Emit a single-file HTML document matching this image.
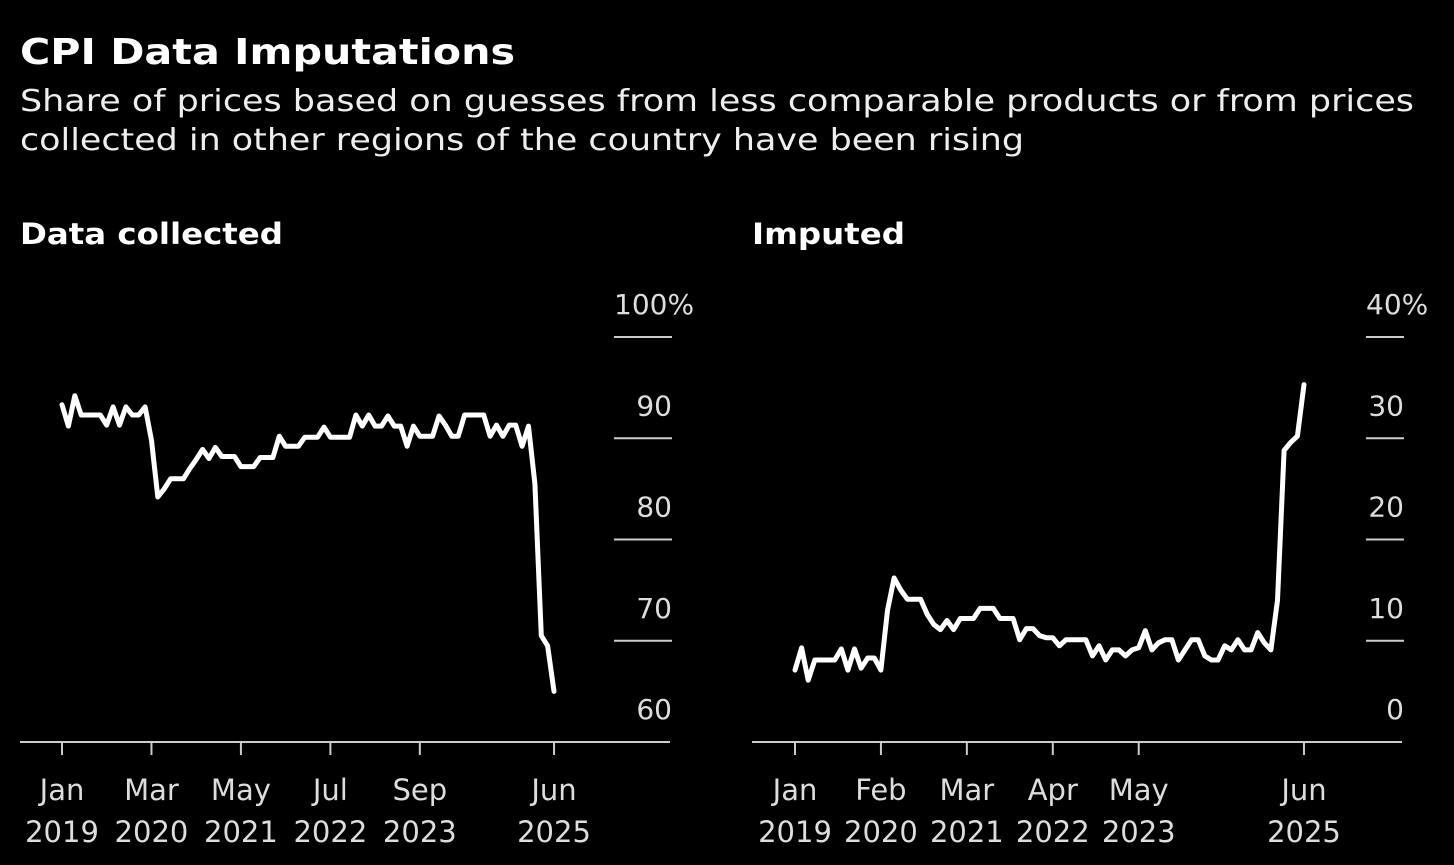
<!DOCTYPE html>
<html><head><meta charset="utf-8"><style>
body{margin:0;background:#000;width:1454px;height:861px;overflow:hidden;font-family:"DejaVu Sans","Liberation Sans",sans-serif}
text{font-family:"DejaVu Sans","Liberation Sans",sans-serif}
</style></head><body>
<svg id="chart" width="1454" height="861">
<text x="20" y="64" fill="#fff" font-size="36" font-weight="bold" textLength="495" lengthAdjust="spacingAndGlyphs">CPI Data Imputations</text>
<text x="20" y="111" fill="#eee" font-size="30" textLength="1394" lengthAdjust="spacingAndGlyphs">Share of prices based on guesses from less comparable products or from prices</text>
<text x="20" y="150" fill="#eee" font-size="30" textLength="1004" lengthAdjust="spacingAndGlyphs">collected in other regions of the country have been rising</text>
<text x="20" y="244" fill="#fff" font-size="29" font-weight="bold" textLength="263" lengthAdjust="spacingAndGlyphs">Data collected</text>
<text x="752" y="244" fill="#fff" font-size="29" font-weight="bold" textLength="153" lengthAdjust="spacingAndGlyphs">Imputed</text>
<g id="left"></g>
<g id="right"></g>
</svg>
<script>
const xTickLabels=[["Jan","2019",0],["Mar","2020",14],["May","2021",28],["Jul","2022",42],["Sep","2023",56],["Jun","2025",77]];
const xTickLabelsR=[["Jan","2019",0],["Feb","2020",13],["Mar","2021",26],["Apr","2022",39],["May","2023",52],["Jun","2025",77]];
const leftTicks=[60,70,80,90,100];
const rightTicks=[0,10,20,30,40];
const collected=[93.3,91.2,94.2,92.3,92.3,92.3,92.3,91.3,93.1,91.3,93.1,92.3,92.3,93.1,89.8,84.2,85,86,86,86,87,87.9,88.9,88,89.1,88.2,88.2,88.2,87.2,87.2,87.2,88.1,88.1,88.1,90.2,89.2,89.2,89.2,90.1,90.1,90.1,91.1,90.1,90.1,90.1,90.1,92.3,91.2,92.3,91.2,91.2,92.2,91.2,91.2,89.2,91.2,90.2,90.2,90.2,92.2,91.3,90.2,90.2,92.3,92.3,92.3,92.3,90.2,91.3,90.2,91.3,91.3,89.2,91.2,85.5,70.5,69.5,65];
const imputed=[7.1,9.3,6.1,8.1,8.1,8.1,8.1,9.2,7.1,9.2,7.3,8.3,8.3,7.1,13,16.2,15,14.1,14.1,14.1,12.6,11.6,11.1,12,11.1,12.2,12.2,12.2,13.2,13.2,13.2,12.2,12.2,12.2,10.1,11.2,11.2,10.5,10.3,10.3,9.5,10.1,10.1,10.1,10.1,8.5,9.5,8.1,9.1,9.1,8.5,9.1,9.3,11,9.1,9.8,10.1,10.1,8.1,9.1,10.1,10.1,8.5,8.1,8.1,9.5,9.1,10.1,9.1,9.1,10.8,9.8,9.1,14,28.8,29.6,30.2,35.3];
const NS="http://www.w3.org/2000/svg";
function mk(parent,tag,attrs){const e=document.createElementNS(NS,tag);for(const k in attrs)e.setAttribute(k,attrs[k]);parent.appendChild(e);return e;}
function panel(g,o){
 const x=i=>o.x0+i*o.dx;
 const y=v=>742-(v-o.vmin)/(o.vmax-o.vmin)*405;
 o.ticks.forEach((t,k)=>{
  if(k>0){const l=mk(g,'line',{x1:o.gx1,x2:o.gx2,y1:y(t),y2:y(t),stroke:'#ccc','stroke-width':2});
  
  }
  const tx=mk(g,'text',{x:o.gx2,y:y(t)-23,fill:'#ddd','font-size':28,'text-anchor':'end'});
  tx.textContent=t;
  if(k===o.ticks.length-1){const s=mk(tx,'tspan',{});s.textContent='%';tx.setAttribute('text-anchor','start');tx.setAttribute('x',o.gx1);}
  
  
 });
 const ax=mk(g,'line',{x1:o.ax1,x2:o.ax2,y1:742,y2:742,stroke:'#ccc','stroke-width':2});
 
 
 o.xt.forEach(t=>{
  const tk=mk(g,'line',{x1:x(t[2]),x2:x(t[2]),y1:742,y2:755,stroke:'#ccc','stroke-width':2});
  
  
  const a=mk(g,'text',{x:x(t[2]),y:800,fill:'#ddd','font-size':29,'text-anchor':'middle'});a.textContent=t[0];
  
  
  const b=mk(g,'text',{x:x(t[2]),y:842,fill:'#ddd','font-size':29,'text-anchor':'middle'});b.textContent=t[1];
  
  
 });
 const p=mk(g,'polyline',{points:o.data.map((v,i)=>x(i).toFixed(1)+','+y(v).toFixed(1)).join(' '),fill:'none',stroke:'#fff','stroke-width':5,'stroke-linejoin':'round','stroke-linecap':'round'});
 
 
}
panel(document.getElementById('left'),{x0:62,dx:6.39,vmin:60,vmax:100,ticks:leftTicks,gx1:614,gx2:672,ax1:20,ax2:670,xt:xTickLabels,data:collected,name:'collected-line'});
panel(document.getElementById('right'),{x0:795,dx:6.61,vmin:0,vmax:40,ticks:rightTicks,gx1:1366,gx2:1404,ax1:752,ax2:1402,xt:xTickLabelsR,data:imputed,name:'imputed-line'});
</script>
</body></html>
